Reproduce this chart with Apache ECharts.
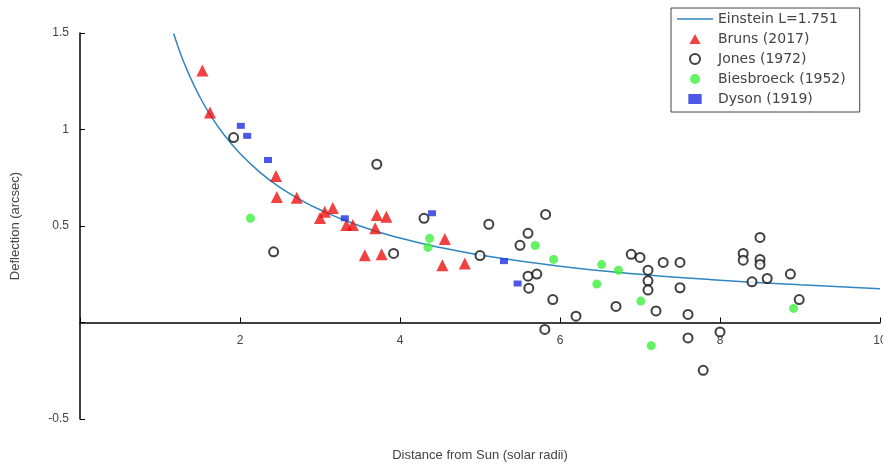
<!DOCTYPE html>
<html>
<head>
<meta charset="utf-8">
<script src="https://cdn.jsdelivr.net/npm/echarts@6/dist/echarts.min.js"></script>
<style>
  html, body { margin: 0; padding: 0; background: #fff; }
  #chart { width: 883px; height: 464px; }
</style>
</head>
<body>
<div id="chart"></div>
<script>
// curve (Einstein L=1.751)
const einsteinCurve = [
    [1.17, 1.497], [1.25, 1.40], [1.35, 1.297], [1.5, 1.167], [1.65, 1.061],
    [1.8, 0.973], [2, 0.876], [2.25, 0.778], [2.5, 0.700], [2.75, 0.637],
    [3, 0.584], [3.5, 0.500], [4, 0.438], [4.5, 0.389], [5, 0.350],
    [6, 0.292], [7, 0.250], [8, 0.219], [9, 0.195], [10, 0.175]
];

const bruns2017 = [
    [1.53, 1.306], [1.625, 1.088], [2.45, 0.759], [2.46, 0.650], [2.71, 0.647],
    [3.06, 0.574], [3.16, 0.593], [3.00, 0.541], [3.33, 0.505], [3.41, 0.505],
    [3.71, 0.557], [3.83, 0.548], [3.69, 0.488], [3.56, 0.349], [3.77, 0.354],
    [4.56, 0.432], [4.53, 0.297], [4.81, 0.306]
];

const jones1972 = [
    [1.92, 0.958], [2.42, 0.366], [3.71, 0.820], [4.30, 0.540], [3.92, 0.358],
    [5.00, 0.347], [5.11, 0.509], [5.82, 0.560], [5.60, 0.462], [5.50, 0.400],
    [5.60, 0.240], [5.71, 0.251], [5.61, 0.178], [5.91, 0.119], [5.81, -0.036],
    [6.20, 0.033], [6.70, 0.083], [6.89, 0.353], [7.00, 0.337], [7.29, 0.311],
    [7.50, 0.311], [7.10, 0.271], [7.10, 0.216], [7.10, 0.168], [7.50, 0.180],
    [7.20, 0.060], [7.60, 0.042], [7.60, -0.080], [7.79, -0.248], [8.00, -0.049],
    [8.50, 0.441], [8.29, 0.358], [8.29, 0.323], [8.50, 0.327], [8.50, 0.301],
    [8.40, 0.211], [8.59, 0.228], [8.88, 0.251], [8.99, 0.119]
];

const biesbroeck1952 = [
    [2.13, 0.540], [4.37, 0.436], [4.35, 0.389], [5.69, 0.399], [5.92, 0.327],
    [6.52, 0.300], [6.73, 0.271], [6.46, 0.199], [7.01, 0.111], [7.14, -0.120],
    [8.92, 0.073]
];

const dyson1919 = [
    [2.01, 1.019], [2.09, 0.967], [2.35, 0.842], [3.31, 0.540], [4.40, 0.566],
    [5.30, 0.318], [5.47, 0.202]
];

const seriesNames = ['Einstein L=1.751', 'Bruns (2017)', 'Jones (1972)', 'Biesbroeck (1952)', 'Dyson (1919)'];

const myChart = echarts.init(document.getElementById('chart'));

const textColor = '#444';
const font = 'Liberation Sans, Arial, sans-serif';

let option = {
    animation: false,
    textStyle: {fontFamily: font},
    grid: {left: 80, right: 3, top: 33, bottom: 45, containLabel: false, outerBoundsMode: 'none'},
    legend: {
        orient: 'vertical',
        left: 671,
        top: 8,
        padding: [4, 14, 6, 6],
        itemGap: 6,
        itemWidth: 36,
        itemHeight: 10,
        symbolKeepAspect: true,
        borderColor: '#444',
        borderWidth: 1,
        textStyle: {color: textColor, fontSize: 14, fontFamily: 'DejaVu Sans, sans-serif'},
        data: [
            {name: seriesNames[0], icon: 'path://M0,0h36v1.6h-36z', itemStyle: {color: '#2f86c0'}},
            {name: seriesNames[1], icon: 'path://M5,0L10,9L0,9Z'},
            {name: seriesNames[2], icon: 'circle', itemStyle: {color: '#fff', borderColor: '#111', borderWidth: 2}},
            {name: seriesNames[3], icon: 'circle'},
            {name: seriesNames[4], icon: 'path://M0,0h8v6h-8z'}
        ]
    },
    xAxis: {
        type: 'value',
        min: 0,
        max: 10,
        interval: 2,
        position: 'bottom',
        offset: -96.5, // moves the axis up to y = 0
        name: 'Distance from Sun (solar radii)',
        nameLocation: 'middle',
        nameGap: 126,
        nameTextStyle: {color: textColor, fontSize: 13},
        axisLine: {onZero: false, lineStyle: {color: '#000', width: 1.5}},
        axisTick: {inside: true, length: 5, lineStyle: {color: '#000'}},
        axisLabel: {
            color: textColor,
            fontSize: 12,
            margin: 12,
            formatter: v => (v === 0 ? '' : v)
        },
        splitLine: {show: false}
    },
    yAxis: {
        type: 'value',
        min: -0.5,
        max: 1.5,
        interval: 0.5,
        name: 'Deflection (arcsec)',
        nameLocation: 'middle',
        nameGap: 58,
        nameTextStyle: {color: textColor, fontSize: 13},
        axisLine: {onZero: false, lineStyle: {color: '#000', width: 1.5}},
        axisTick: {inside: true, length: 5, lineStyle: {color: '#000'}},
        axisLabel: {
            color: textColor,
            fontSize: 12,
            margin: 11,
            formatter: v => (v === 0 ? '' : v)
        },
        splitLine: {show: false}
    },
    series: [
        {
            name: seriesNames[0],
            type: 'line',
            data: einsteinCurve,
            smooth: true,
            showSymbol: false,
            symbol: 'none',
            lineStyle: {color: '#2f86c0', width: 1.5},
            itemStyle: {color: '#2f86c0'},
            z: 1
        },
        {
            name: seriesNames[1],
            type: 'scatter',
            data: bruns2017,
            symbol: 'triangle',
            symbolSize: 12,
            itemStyle: {color: '#ee1111'},
            z: 3
        },
        {
            name: seriesNames[2],
            type: 'scatter',
            data: jones1972,
            symbol: 'circle',
            symbolSize: 9,
            itemStyle: {color: '#fff', borderColor: '#111', borderWidth: 2},
            z: 2
        },
        {
            name: seriesNames[3],
            type: 'scatter',
            data: biesbroeck1952,
            symbol: 'circle',
            symbolSize: 9,
            itemStyle: {color: '#3df03d'},
            z: 3
        },
        {
            name: seriesNames[4],
            type: 'scatter',
            data: dyson1919,
            symbol: 'rect',
            symbolSize: [8, 6],
            itemStyle: {color: '#1f2fe0'},
            z: 3
        }
    ]
};

myChart.setOption(option);
</script>
</body>
</html>
